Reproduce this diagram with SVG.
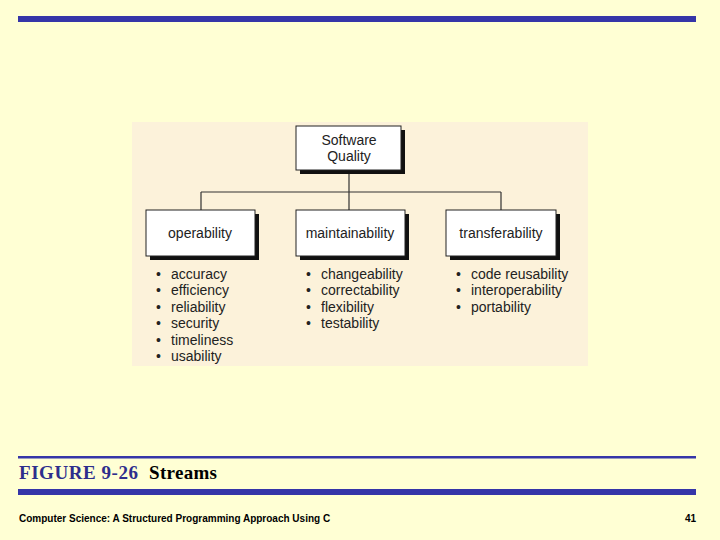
<svg xmlns="http://www.w3.org/2000/svg" width="720" height="540" viewBox="0 0 720 540">
<style>
.box{fill:#fff;stroke:#222;stroke-width:1}
.sh{fill:#111}
.t{font-family:"Liberation Sans",Arial,sans-serif;font-size:14px;fill:#222}
.c{text-anchor:middle}
.ln{stroke:#333;stroke-width:1.2;fill:none}
</style>
<rect width="720" height="540" fill="#FFFFD4"/>
<rect x="18" y="16" width="678" height="6" fill="#3535A8"/>
<rect x="132" y="122" width="456" height="244" fill="#FCF2DA"/>
<g id="connectors">
<path class="ln" d="M349 170V192M201 192H501M201 192V210M349 192V210M501 192V210"/>
</g>
<g id="root">
<rect class="sh" x="300" y="130" width="105" height="44"/>
<rect class="box" x="296" y="126" width="105" height="44"/>
<text class="t c" x="349" y="145">Software</text>
<text class="t c" x="349" y="161">Quality</text>
</g>
<g id="operability">
<rect class="sh" x="150" y="214" width="109" height="46"/>
<rect class="box" x="146" y="210" width="109" height="46"/>
<text class="t c" x="200" y="238">operability</text>
</g>
<g id="maintainability">
<rect class="sh" x="300" y="214" width="109" height="46"/>
<rect class="box" x="296" y="210" width="109" height="46"/>
<text class="t c" x="350" y="238">maintainability</text>
</g>
<g id="transferability">
<rect class="sh" x="450" y="214" width="110" height="46"/>
<rect class="box" x="446" y="210" width="110" height="46"/>
<text class="t c" x="501" y="238">transferability</text>
</g>
<g id="list1" class="t">
<text x="156" y="279">•<tspan x="171">accuracy</tspan></text>
<text x="156" y="295">•<tspan x="171">efficiency</tspan></text>
<text x="156" y="312">•<tspan x="171">reliability</tspan></text>
<text x="156" y="328">•<tspan x="171">security</tspan></text>
<text x="156" y="345">•<tspan x="171">timeliness</tspan></text>
<text x="156" y="361">•<tspan x="171">usability</tspan></text>
</g>
<g id="list2" class="t">
<text x="306" y="279">•<tspan x="321">changeability</tspan></text>
<text x="306" y="295">•<tspan x="321">correctability</tspan></text>
<text x="306" y="312">•<tspan x="321">flexibility</tspan></text>
<text x="306" y="328">•<tspan x="321">testability</tspan></text>
</g>
<g id="list3" class="t">
<text x="456" y="279">•<tspan x="471">code reusability</tspan></text>
<text x="456" y="295">•<tspan x="471">interoperability</tspan></text>
<text x="456" y="312">•<tspan x="471">portability</tspan></text>
</g>
<rect x="18" y="456" width="678" height="2.5" fill="#3535A8"/>
<text x="19" y="479" font-family="Liberation Serif,serif" font-size="19" font-weight="bold" fill="#2E2E8C" textLength="119">FIGURE 9-26</text>
<text x="149" y="479" font-family="Liberation Serif,serif" font-size="19" font-weight="bold" fill="#000" textLength="68">Streams</text>
<rect x="18" y="489" width="678" height="6" fill="#3535A8"/>
<text x="19" y="522" font-family="Liberation Sans,Arial,sans-serif" font-size="10" font-weight="bold" fill="#000">Computer Science: A Structured Programming Approach Using C</text>
<text x="696" y="522" text-anchor="end" font-family="Liberation Sans,Arial,sans-serif" font-size="10" font-weight="bold" fill="#000">41</text>
</svg>
